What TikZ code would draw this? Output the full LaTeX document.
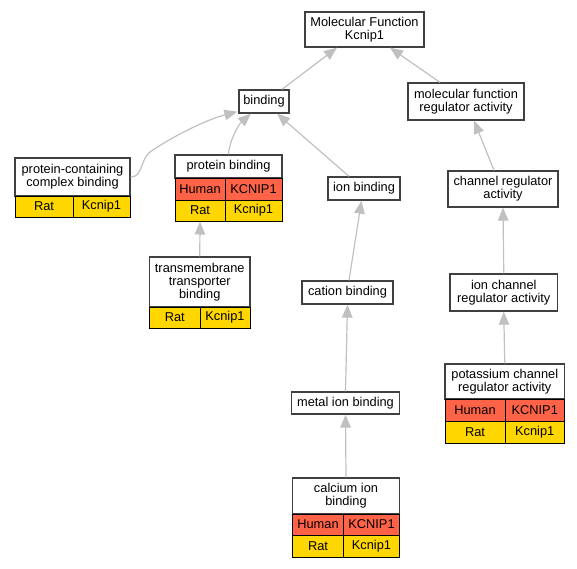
\documentclass[tikz,border=0pt]{standalone}
\usepackage{fontspec}
\setmainfont{Liberation Sans}
\usetikzlibrary{arrows.meta}
\definecolor{edgegray}{HTML}{C0C0C0}
\definecolor{boxline}{HTML}{404040}
\definecolor{humanred}{HTML}{FF6347}
\definecolor{ratgold}{HTML}{FFD700}
\newcommand\gorect[7]{\node[#1, minimum width={#5-#3}, minimum height={#6-#4}] (#2) at ({(#3+#5)/2},{(#4+#6)/2}) {#7};}
\begin{document}
\begin{tikzpicture}[x=1pt,y=-1pt,
  txt/.style={font=\fontsize{12.8}{13.3}\selectfont, text=black, align=center, inner sep=0pt},
  term/.style={txt, draw=boxline, line width=1.3pt, fill=white},
  cell/.style={txt, draw=black, line width=1pt},
  humancell/.style={cell, fill=humanred},
  ratcell/.style={cell, fill=ratgold},
  isa/.style={draw=edgegray, line width=1.2pt, -{Triangle[width=10.5pt,length=13pt]}}]
\useasboundingbox (0,0) rectangle (577,568);
% plain terms
\gorect{term}{mf}{305}{12}{424}{47}{Molecular Function\\Kcnip1}
\gorect{term}{bind}{239}{90}{289}{113}{binding}
\gorect{term}{mfra}{408}{83}{524}{120}{molecular function\\regulator activity}
\gorect{term}{ion}{328}{177}{400}{200}{ion binding}
\gorect{term}{cra}{448}{171}{558}{207}{channel regulator\\activity}
\gorect{term}{cation}{302}{281}{393}{304}{cation binding}
\gorect{term}{icra}{450}{274}{557.5}{311}{ion channel\\regulator activity}
\gorect{term}{mib}{291.5}{392}{399.5}{414}{metal ion binding}
% protein-containing complex binding
\gorect{term}{pccbh}{15}{158}{130}{196}{protein-containing\\complex binding}
\gorect{ratcell}{pccbr1}{15}{196}{73}{217}{Rat}
\gorect{ratcell}{pccbr2}{73}{196}{130}{217}{Kcnip1}
% protein binding
\gorect{term}{pbh}{175}{155}{282}{178}{protein binding}
\gorect{humancell}{pbh1}{175}{178}{225}{200}{Human}
\gorect{humancell}{pbh2}{225}{178}{282}{200}{KCNIP1}
\gorect{ratcell}{pbr1}{175}{200}{225}{221}{Rat}
\gorect{ratcell}{pbr2}{225}{200}{282}{221}{Kcnip1}
% transmembrane transporter binding
\gorect{term}{tmtbh}{149.5}{257}{250}{307}{transmembrane\\transporter\\binding}
\gorect{ratcell}{tmtbr1}{149.5}{307}{200}{328}{Rat}
\gorect{ratcell}{tmtbr2}{200}{307}{250}{328}{Kcnip1}
% potassium channel regulator activity
\gorect{term}{kcrah}{445}{364}{564.5}{399}{potassium channel\\regulator activity}
\gorect{humancell}{kcrah1}{445}{399}{505}{421}{Human}
\gorect{humancell}{kcrah2}{505}{399}{564.5}{421}{KCNIP1}
\gorect{ratcell}{kcrar1}{445}{421}{505}{443}{Rat}
\gorect{ratcell}{kcrar2}{505}{421}{564.5}{443}{Kcnip1}
% calcium ion binding
\gorect{term}{cibh}{292.5}{478}{399.5}{514}{calcium ion\\binding}
\gorect{humancell}{cibh1}{292.5}{514}{343.5}{535}{Human}
\gorect{humancell}{cibh2}{343.5}{514}{399.5}{535}{KCNIP1}
\gorect{ratcell}{cibr1}{292.5}{535}{343.5}{557}{Rat}
\gorect{ratcell}{cibr2}{343.5}{535}{399.5}{557}{Kcnip1}
% edges
\draw[isa] ([xshift=18pt]bind.north) -- ([xshift=-27.5pt]mf.south);
\draw[isa] ([xshift=-26pt]mfra.north) -- ([xshift=25.5pt]mf.south);
\draw[isa] (pccbh.east) .. controls (143,177) and (140,160) .. (150,152) .. controls (170,138) and (205,120) .. ([xshift=-1pt,yshift=2pt]bind.south west);
\draw[isa] (pbh.north) .. controls (229,142) and (238,125) .. ([xshift=-13pt]bind.south);
\draw[isa] ([xshift=-15pt]ion.north) -- ([xshift=13pt]bind.south);
\draw[isa] ([xshift=-9pt]cra.north) -- ([xshift=8pt]mfra.south);
\draw[isa] ([xshift=1.5pt]cation.north) -- ([xshift=-2.5pt]ion.south);
\draw[isa] (tmtbh.north) -- (pbr1.south);
\draw[isa] (icra.north) -- (cra.south);
\draw[isa] (kcrah.north) -- (icra.south);
\draw[isa] (mib.north) -- (cation.south);
\draw[isa] (cibh.north) -- (mib.south);
\end{tikzpicture}
\end{document}
